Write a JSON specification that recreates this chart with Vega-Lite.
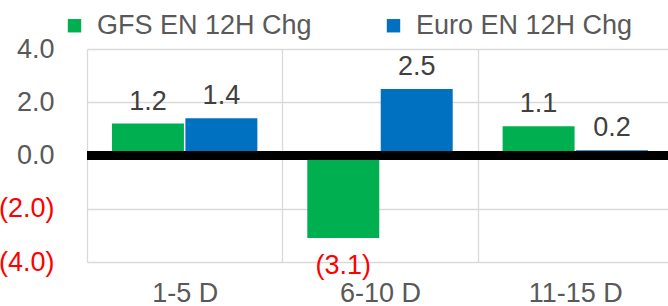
{
  "$schema": "https://vega.github.io/schema/vega-lite/v6.json",
  "width": 586,
  "height": 213,
  "autosize": {"type": "none"},
  "padding": {"left": 87, "top": 49, "right": 0, "bottom": 44},
  "config": {"view": {"stroke": null}, "font": "Liberation Sans"},
  "data": {
    "values": [
      {"period": "1-5 D", "series": "GFS EN 12H Chg", "value": 1.2},
      {"period": "1-5 D", "series": "Euro EN 12H Chg", "value": 1.4},
      {"period": "6-10 D", "series": "GFS EN 12H Chg", "value": -3.1},
      {"period": "6-10 D", "series": "Euro EN 12H Chg", "value": 2.5},
      {"period": "11-15 D", "series": "GFS EN 12H Chg", "value": 1.1},
      {"period": "11-15 D", "series": "Euro EN 12H Chg", "value": 0.2}
    ]
  },
  "layer": [
    {
      "mark": {"type": "bar"},
      "encoding": {
        "x": {
          "field": "period", "type": "nominal",
          "sort": ["1-5 D", "6-10 D", "11-15 D"],
          "scale": {"paddingInner": 0, "paddingOuter": 0},
          "axis": {"title": null, "tickBand": "extent", "domain": false, "ticks": false, "labelFontSize": 27, "labelColor": "#595959", "labelPadding": 18, "labelAngle": 0, "grid": true, "gridColor": "#d9d9d9", "gridWidth": 1.3}
        },
        "xOffset": {
          "field": "series", "type": "nominal",
          "sort": ["GFS EN 12H Chg", "Euro EN 12H Chg"],
          "scale": {"paddingInner": 0.02, "paddingOuter": 0.34}
        },
        "y": {
          "field": "value", "type": "quantitative",
          "scale": {"domain": [-4, 4], "nice": false},
          "axis": {"title": null, "values": [-4, -2, 0, 2, 4], "format": "(.1f", "domain": false, "ticks": false, "labelPadding": 33, "labelFontSize": 27, "labelColor": {"condition": {"test": "datum.value < 0", "value": "#FF0000"}, "value": "#595959"}, "gridColor": "#d9d9d9", "gridWidth": 1.3}
        },
        "color": {
          "field": "series", "type": "nominal",
          "sort": ["GFS EN 12H Chg", "Euro EN 12H Chg"],
          "scale": {"range": ["#00B050", "#0070C0"]},
          "legend": {"title": null, "orient": "none", "legendX": -26, "legendY": -37, "direction": "horizontal", "symbolType": "square", "symbolSize": 180, "symbolStrokeWidth": 0, "symbolOpacity": 1, "labelFontSize": 27, "labelColor": "#595959", "labelLimit": 400, "labelOffset": 9, "columnPadding": 68, "padding": 0}
        }
      }
    },
    {
      "mark": {"type": "rule", "color": "black", "strokeWidth": 8.5},
      "encoding": {"y": {"datum": 0}}
    },
    {
      "transform": [{"filter": "datum.value >= 0"}],
      "mark": {"type": "text", "baseline": "alphabetic", "dy": -14, "fontSize": 27, "color": "#404040"},
      "encoding": {
        "x": {"field": "period", "type": "nominal", "sort": ["1-5 D", "6-10 D", "11-15 D"]},
        "xOffset": {"field": "series", "type": "nominal", "sort": ["GFS EN 12H Chg", "Euro EN 12H Chg"]},
        "y": {"field": "value", "type": "quantitative"},
        "text": {"field": "value", "type": "quantitative", "format": "(.1f"}
      }
    },
    {
      "transform": [{"filter": "datum.value < 0"}],
      "mark": {"type": "text", "baseline": "alphabetic", "dy": 36, "fontSize": 27, "color": "#FF0000"},
      "encoding": {
        "x": {"field": "period", "type": "nominal", "sort": ["1-5 D", "6-10 D", "11-15 D"]},
        "xOffset": {"field": "series", "type": "nominal", "sort": ["GFS EN 12H Chg", "Euro EN 12H Chg"]},
        "y": {"field": "value", "type": "quantitative"},
        "text": {"field": "value", "type": "quantitative", "format": "(.1f"}
      }
    }
  ]
}
